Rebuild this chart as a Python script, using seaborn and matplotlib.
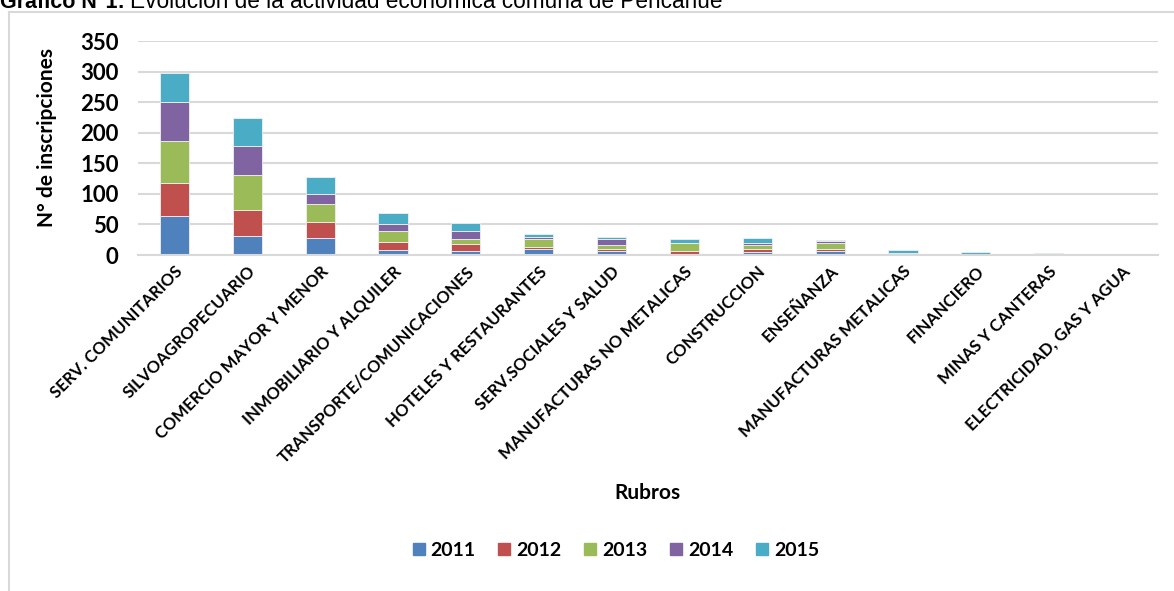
import numpy as np
import pandas as pd
import matplotlib
matplotlib.use("Agg")
import matplotlib.pyplot as plt
import seaborn as sns
from matplotlib.lines import Line2D

# --- data ---
rubros = [
    "SERV. COMUNITARIOS", "SILVOAGROPECUARIO", "COMERCIO MAYOR Y MENOR",
    "INMOBILIARIO Y ALQUILER", "TRANSPORTE/COMUNICACIONES", "HOTELES Y RESTAURANTES",
    "SERV.SOCIALES Y SALUD", "MANUFACTURAS NO METALICAS", "CONSTRUCCION",
    "ENSEÑANZA", "MANUFACTURAS METALICAS", "FINANCIERO", "MINAS Y CANTERAS",
    "ELECTRICIDAD, GAS Y AGUA",
]
years = ["2011", "2012", "2013", "2014", "2015"]
v2011 = [63, 31, 28, 8, 7, 9, 6, 2, 5, 6, 1, 0, 0, 0]
v2012 = [54, 43, 26, 13, 11, 4, 4, 4, 5, 4, 1, 0, 0, 0]
v2013 = [69, 57, 30, 18, 8, 13, 6, 13, 6, 9, 0, 0, 0, 0]
v2014 = [64, 48, 15, 11, 14, 4, 10, 1, 4, 4, 2, 1, 0, 0]
v2015 = [48, 45, 29, 18, 12, 5, 4, 6, 7, 1, 4, 4, 3, 0]
colors = ["#4F81BD", "#C0504D", "#9BBB59", "#8064A2", "#4BACC6"]

series = [v2011, v2012, v2013, v2014, v2015]
df = pd.DataFrame({"rubro": rubros})
for y, v in zip(years, series):
    df[y] = v

W, H = 1174, 591
fig = plt.figure(figsize=(W / 100, H / 100), dpi=100)
ax = fig.add_axes([138 / W, 1 - 255 / H, 1020 / W, 214 / H])

font = "Lato"

bottom = np.zeros(len(rubros))
for y, c in zip(years, colors):
    sns.barplot(data=df, x="rubro", y=y, color=c, width=0.4, bottom=bottom,
                errorbar=None, ax=ax, linewidth=0.6, edgecolor="#f0f0f0",
                saturation=1)
    bottom = bottom + df[y].values

ax.set_ylim(0, 350)
ax.set_yticks(range(0, 351, 50))
ax.grid(axis="y", color="#d9d9d9", linewidth=1.5)
ax.set_axisbelow(True)
for s in ["left", "right", "top"]:
    ax.spines[s].set_visible(False)
ax.spines["bottom"].set_color("#d9d9d9")
ax.spines["bottom"].set_linewidth(1.5)
ax.tick_params(length=0)
ax.tick_params(axis="y", pad=14)
ax.set_xlim(-0.5, len(rubros) - 0.5)

for lab in ax.get_yticklabels():
    lab.set_fontfamily(font)
    lab.set_fontweight("bold")
    lab.set_fontsize(16)
ax.set_xticks(range(len(rubros)))
ax.set_xticklabels(rubros, rotation=45, ha="right", va="top",
                   rotation_mode="anchor", fontfamily=font,
                   fontweight="bold", fontsize=12)
ax.tick_params(axis="x", pad=6)

ax.set_ylabel("N° de inscripciones", fontfamily=font, fontweight="bold", fontsize=15)
ax.yaxis.set_label_coords(-0.079, 0.547)
ax.set_xlabel("Rubros", fontfamily=font, fontweight="bold", fontsize=15)
ax.xaxis.set_label_coords(0.499, -1.065)

handles = [Line2D([0], [0], marker="s", linestyle="none", markersize=9,
                  markerfacecolor=c, markeredgecolor=c) for c in colors]
fig.legend(handles, years, loc="center", bbox_to_anchor=(615 / W, 1 - 550 / H),
           ncol=5, frameon=False, handletextpad=0.2, columnspacing=1.1,
           handlelength=0.8, prop={"family": font, "weight": "bold", "size": 14})

# chart area frame (left and top edges visible)
fig.add_artist(Line2D([8.5 / W, 8.5 / W], [0, 1 - 12 / H], color="#d9d9d9",
                      linewidth=1.5, transform=fig.transFigure))
fig.add_artist(Line2D([8.5 / W, 1], [1 - 12 / H, 1 - 12 / H], color="#d9d9d9",
                      linewidth=1.5, transform=fig.transFigure))

# title, partly cut at the top edge as in the original
t1 = fig.text(0, 1 - 8 / H, "Gráfico N°1:", fontfamily="Liberation Sans",
              fontweight="bold", fontsize=15.5, va="baseline", ha="left")
fig.canvas.draw()
x_end = t1.get_window_extent().x1
fig.text((x_end + 5) / W, 1 - 8 / H,
         "Evolución de la actividad económica comuna de Pencahue",
         fontfamily="Liberation Sans", fontsize=16.3, va="baseline", ha="left")

fig.savefig("out.png", dpi=100, facecolor="white")
